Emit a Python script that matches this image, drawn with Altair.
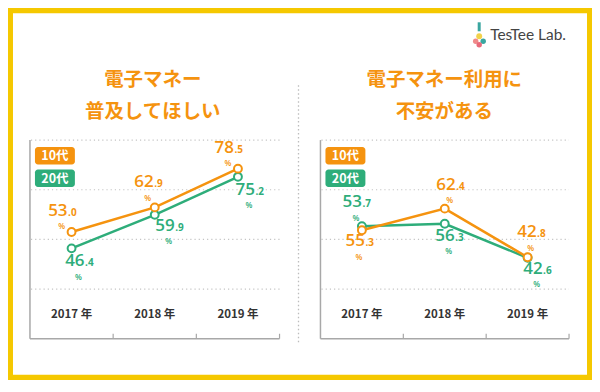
import altair as alt
import pandas as pd

# ---------------- data ----------------
years = ["2017", "2018", "2019"]
year_labels = ["2017 年", "2018 年", "2019 年"]
series = ["10代", "20代"]

left_title = ["電子マネー", "普及してほしい"]
left_10 = [53.0, 62.9, 78.5]
left_20 = [46.4, 59.9, 75.2]
left_10_text = ["53.0", "62.9", "78.5"]
left_20_text = ["46.4", "59.9", "75.2"]

right_title = ["電子マネー利用に", "不安がある"]
right_10 = [53.7, 62.4, 42.8]
right_20 = [55.3, 56.3, 42.6]
right_10_text = ["55.3", "62.4", "42.8"]
right_20_text = ["53.7", "56.3", "42.6"]

grid_values = [30, 50, 70, 90]
logo_text = "TesTee Lab."

# ---------------- style ----------------
ORANGE = "#F5930F"
GREEN = "#2EAD7A"
YELLOW = "#F5C800"
AXIS = "#A8A8A8"
FONT = "Noto Sans CJK JP"
NUMFONT = "Open Sans"
W, H = 585, 372
Y_SCALE = alt.Scale(domain=[10, 90], range=[331, 132])
COLOR_SCALE = alt.Scale(domain=series, range=[ORANGE, GREEN])

# label offsets (pixels, centre of the "%" sign relative to the point)
left_off = {"10代": [(-10, -7), (-7, -11), (-10, -7)],
            "20代": [(7, 27), (14, 25), (11, 27)]}
right_off = {"10代": [(-3, 25), (5, -10), (3, -11)],
             "20代": [(-6, -10), (4, 26), (9, 25)]}

one = pd.DataFrame({"a": [0]})


def panel(cx, x0, x1, titles, v10, v20, t10, t20, offs):
    xs = alt.Scale(domain=years, range=[x0, x1], paddingInner=0, paddingOuter=0)
    rows = []
    for s, vals, texts in ((series[1], v20, t20), (series[0], v10, t10)):
        for yr, lab, v, t in zip(years, year_labels, vals, texts):
            ip, dp = t.split(".")
            rows.append(dict(year=yr, label=lab, series=s, value=v, ip=ip, dp="." + dp))
    df = pd.DataFrame(rows)
    base = alt.Chart(df)
    X = alt.X("year:N", scale=xs, axis=None)
    Yv = alt.Y("value:Q", scale=Y_SCALE, axis=None)
    col = alt.Color("series:N", scale=COLOR_SCALE, legend=None)

    layers = []
    # grid
    layers.append(alt.Chart(pd.DataFrame({"g": grid_values})).mark_rule(
        strokeDash=[1.2, 3], color="#C4C4C4", strokeWidth=1.2).encode(
        y=alt.Y("g:Q", scale=Y_SCALE, axis=None), x=alt.value(x0 + 1), x2=alt.value(x1)))
    # axes
    ax = pd.DataFrame({"lo": [10], "hi": [90]})
    layers.append(alt.Chart(ax).mark_rule(color=AXIS, strokeWidth=1.5).encode(
        x=alt.value(x0), y=alt.Y("lo:Q", scale=Y_SCALE, axis=None), y2="hi:Q"))
    layers.append(alt.Chart(ax).mark_rule(color=AXIS, strokeWidth=1.5).encode(
        x=alt.value(x0), x2=alt.value(x1), y=alt.Y("lo:Q", scale=Y_SCALE, axis=None)))
    yb = base.transform_filter(alt.datum.series == series[0])
    layers.append(yb.mark_rule(color=AXIS, strokeWidth=1.2).encode(
        x=alt.X("year:N", scale=xs, axis=None, bandPosition=1),
        y=alt.value(331), y2=alt.value(326)))
    # year labels
    layers.append(yb.mark_text(font=FONT, fontSize=11.5, fontWeight="bold", color="#333333").encode(
        x=X, y=alt.value(307), text="label:N"))
    # title
    for i, t in enumerate(titles):
        layers.append(alt.Chart(one).mark_text(font=FONT, fontSize=19.5, fontWeight="bold",
                                               color=ORANGE).encode(
            x=alt.value(cx), y=alt.value(72 + 32 * i), text=alt.value(t)))
    # legend badges
    for i, (s, c) in enumerate(zip(series, [ORANGE, GREEN])):
        bx = x0 + 5
        by = 139 + 22.5 * i
        layers.append(alt.Chart(one).mark_rect(color=c, cornerRadius=3).encode(
            x=alt.value(bx), x2=alt.value(bx + 40), y=alt.value(by), y2=alt.value(by + 17.5)))
        layers.append(alt.Chart(one).mark_text(font=FONT, fontSize=12.5, fontWeight="bold",
                                               color="white").encode(
            x=alt.value(bx + 20), y=alt.value(by + 9), text=alt.value(s)))
    # lines and points
    layers.append(base.mark_line(strokeWidth=2.5).encode(x=X, y=Yv, color=col))
    layers.append(base.mark_point(shape="circle", size=62, fill="white", strokeWidth=2,
                                  opacity=1, filled=False).encode(x=X, y=Yv, color=col))
    # value labels
    for s, c in zip(series, [ORANGE, GREEN]):
        for yr, (dx, dy) in zip(years, offs[s]):
            sub = base.transform_filter((alt.datum.series == s) & (alt.datum.year == yr))
            layers.append(sub.mark_text(font=NUMFONT, fontSize=8, fontWeight=600, color=c,
                                        dx=dx, dy=dy + 2.5, align="center", baseline="middle").encode(
                x=X, y=Yv, text=alt.value("%")))
            layers.append(sub.mark_text(font=NUMFONT, fontSize=17, fontWeight=600, color=c,
                                        dx=dx + 6, dy=dy - 9, align="right",
                                        baseline="alphabetic").encode(x=X, y=Yv, text="ip:N"))
            layers.append(sub.mark_text(font=NUMFONT, fontSize=10, fontWeight=700, color=c,
                                        dx=dx + 6.5, dy=dy - 9, align="left",
                                        baseline="alphabetic").encode(x=X, y=Yv, text="dp:N"))
    return layers


# ---------------- decoration ----------------
frame = alt.Chart(one).mark_rect(color="white").encode(
    x=alt.value(5), x2=alt.value(580), y=alt.value(5), y2=alt.value(367))
sep = alt.Chart(one).mark_rule(color="#BDBDBD", strokeDash=[1.5, 2.5], strokeWidth=1.3).encode(
    x=alt.value(291), y=alt.value(77), y2=alt.value(337))
logo = alt.Chart(one).mark_text(font="Lato", fontSize=15.5, color="#444444", align="left").encode(
    x=alt.value(483), y=alt.value(27), text=alt.value(logo_text))
neck = alt.Chart(one).mark_rule(color="#3AA6A0", strokeWidth=3).encode(
    x=alt.value(472), y=alt.value(14), y2=alt.value(23))
blobs = [
    alt.Chart(one).mark_point(filled=True, shape="circle", size=s, color=c, opacity=1).encode(
        x=alt.value(px), y=alt.value(py))
    for px, py, s, c in [(472, 28, 35, "#F2D24B"), (468.5, 33, 30, "#F08A8A"),
                         (476, 33, 30, "#3AA6A0"), (472, 36.5, 30, "#E86A7A")]
]

left = panel(145, 22, 272, left_title, left_10, left_20, left_10_text, left_20_text, left_off)
right = panel(437, 313, 562, right_title, right_10, right_20, right_10_text, right_20_text,
              right_off)

chart = alt.layer(frame, sep, logo, neck, *blobs, *left, *right).resolve_scale(
    x="independent"
).properties(
    width=W, height=H, padding=0, autosize="none", background=YELLOW
).configure_view(stroke=None)

chart.save("out.html", embed_options={"renderer": "svg", "actions": False})
